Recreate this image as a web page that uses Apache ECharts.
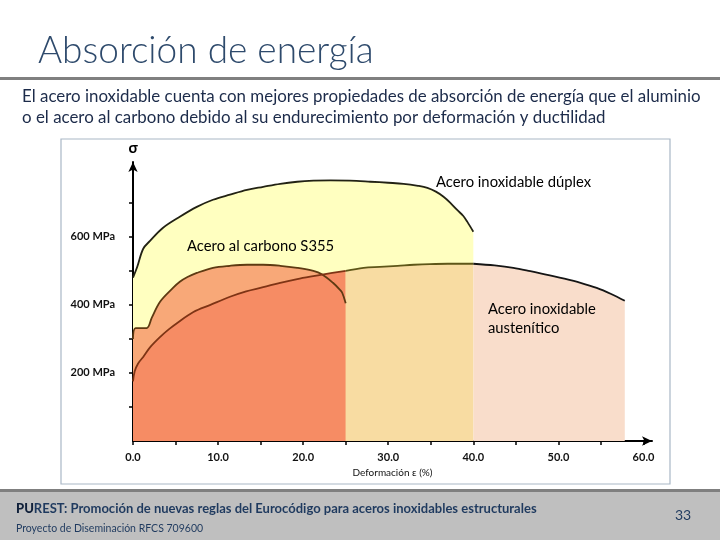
<!DOCTYPE html>
<html>
<head>
<meta charset="utf-8">
<script src="https://cdn.jsdelivr.net/npm/echarts@6/dist/echarts.min.js"></script>
<style>
html,body{margin:0;padding:0;background:#fff;}
#chart{width:720px;height:540px;}
</style>
</head>
<body>
<div id="chart"></div>
<script>
// ---- Data (strain %, stress MPa) ----
const duplex = [[0,480],[0.5,512],[1.2,565],[2.0,588],[3.5,626],[5.5,659],[7.5,688],[9.4,709],[11.4,724],[13.4,738],[15.3,747],[17.3,756],[19.3,762],[21.2,765],[23.2,766],[25.5,765],[27.9,762],[30,759],[31.8,756],[33.5,750],[34.6,744],[35.6,733],[36.5,718],[37.3,700],[38.1,679],[38.8,662],[39.3,644],[40,615]];
const carbonS355 = [[0,300],[0.3,332],[1.6,332],[2.2,362],[3.2,410],[4.7,450],[5.5,468],[6.4,482],[7.5,494],[9.4,509],[11.4,515],[13.4,518],[15.3,518],[17.3,515],[19.3,509],[21.2,500],[22.2,490],[23.5,465],[24.3,445],[24.6,435],[25,405]];
const austenitic = [[0,175],[0.2,205],[0.6,228],[1.2,247],[2.0,275],[3.2,306],[4.2,328],[5.2,347],[7.1,379],[9.1,400],[11.4,424],[13.3,440],[15.3,452],[17.3,465],[19.3,476],[21,484],[22.4,490],[25,500],[27.1,509],[29,512],[31.1,515],[33,518],[34.9,520],[37,521],[40,521],[42.5,516],[44.7,509],[46.7,499],[48.7,488],[50.7,477],[52.6,465],[54.5,450],[56.2,432],[57.8,412]];
const xTicks = [0,5,10,15,20,25,30,35,40,45,50,55,60];
const xLabels = [0,10,20,30,40,50,60];
const yTicks = [100,200,300,400,500,600,700];
const yLabels = [200,400,600];
const seriesNames = ['Acero inoxidable dúplex','Acero al carbono S355','Acero inoxidable austenítico'];
// split points of the austenitic curve (where the other fills end)
const carbonEnd = carbonS355[carbonS355.length-1][0];
const duplexEnd = duplex[duplex.length-1][0];

const austA = austenitic.filter(p => p[0] <= carbonEnd);
const austB = austenitic.filter(p => p[0] >= carbonEnd && p[0] <= duplexEnd);
const austC = austenitic.filter(p => p[0] >= duplexEnd);

const FONT = 'Lato, "Noto Sans", sans-serif';

function area(name, data, color, z) {
  return {type:'line', name, data, showSymbol:false, smooth:0.35, z,
    lineStyle:{width:0}, areaStyle:{color, opacity:1}, silent:true, animation:false};
}
function curve(name, data, color, z) {
  return {type:'line', name, data, showSymbol:false, smooth:0.35, z,
    lineStyle:{width:1.8, color}, silent:true, animation:false};
}

const chart = echarts.init(document.getElementById('chart'));
chart.setOption({
  backgroundColor:'#ffffff',
  animation:false,
  grid:{left:133, top:162, width:519, bottom:99},
  xAxis:{type:'value', min:0, max:61,
    name:'Deformación ε (%)', nameLocation:'middle', nameGap:26,
    nameTextStyle:{fontFamily:FONT, fontSize:10, color:'#111'},
    axisLine:{show:true, symbol:['none','arrow'], symbolSize:[7,10], lineStyle:{color:'#000', width:2}},
    axisTick:{show:true, customValues:xTicks, length:4, lineStyle:{color:'#000', width:1.5}},
    axisLabel:{customValues:xLabels, formatter:v => Number(v).toFixed(1), fontFamily:FONT, fontSize:11, fontWeight:'bold', color:'#111', margin:11},
    splitLine:{show:false}},
  yAxis:{type:'value', min:0, max:820,
    name:'σ', nameLocation:'end', nameGap:6,
    nameTextStyle:{fontFamily:FONT, fontSize:15, fontWeight:'bold', color:'#000', align:'center'},
    axisLine:{show:true, symbol:['none','arrow'], symbolSize:[7,10], lineStyle:{color:'#000', width:2}},
    axisTick:{show:true, customValues:yTicks, length:4, lineStyle:{color:'#000', width:1.5}},
    axisLabel:{customValues:yLabels, formatter:v => v + ' MPa', fontFamily:FONT, fontSize:11, fontWeight:'bold', color:'#111', margin:18},
    splitLine:{show:false}},
  series:[
    area(seriesNames[0], duplex, '#FFFFC0', 1),
    area(seriesNames[1], carbonS355, '#F8A878', 2),
    area(seriesNames[2], austA, '#F68C64', 3),
    area(seriesNames[2], austB, '#F8DCA2', 3),
    area(seriesNames[2], austC, '#F9DDCB', 3),
    curve(seriesNames[0], duplex, '#222214', 6),
    curve(seriesNames[1], carbonS355, '#5E3A12', 6),
    curve(seriesNames[2], austA, '#7E3415', 6),
    curve(seriesNames[2], austB, '#5E5618', 6),
    curve(seriesNames[2], austC, '#151515', 6)
  ],
  graphic:[
    {type:'text', x:38, y:51, style:{text:'Absorción de energía', fontFamily:FONT, fontSize:37, fontWeight:300, fill:'#2E4A6C', verticalAlign:'middle'}},
    {type:'rect', shape:{x:0, y:77, width:720, height:3}, style:{fill:'#808080'}},
    {type:'text', x:22, y:86, style:{text:'El acero inoxidable cuenta con mejores propiedades de absorción de energía que el aluminio\no el acero al carbono debido al su endurecimiento por deformación y ductilidad', fontFamily:FONT, fontSize:16.9, lineHeight:21, fill:'#1C2B4A', verticalAlign:'top'}},
    {type:'rect', shape:{x:61, y:139, width:609, height:345}, style:{fill:'none', stroke:'#A9B7C6', lineWidth:1.2}, z:0},
    {type:'text', x:436, y:182, style:{text:seriesNames[0], fontFamily:FONT, fontSize:14.8, fill:'#000', verticalAlign:'middle'}, z:10},
    {type:'text', x:187, y:246, style:{text:seriesNames[1], fontFamily:FONT, fontSize:14.8, fill:'#000', verticalAlign:'middle'}, z:10},
    {type:'text', x:488, y:300, style:{text:'Acero inoxidable\naustenítico', fontFamily:FONT, fontSize:14.8, lineHeight:19, fill:'#000', verticalAlign:'top'}, z:10},
    {type:'rect', shape:{x:0, y:490, width:720, height:50}, style:{fill:'#BFBFBF'}},
    {type:'rect', shape:{x:0, y:489, width:720, height:3}, style:{fill:'#7F7F7F'}},
    {type:'text', x:16, y:509, style:{text:'{b|PU}REST: Promoción de nuevas reglas del Eurocódigo para aceros inoxidables estructurales', fontFamily:FONT, fontSize:13, fontWeight:'bold', fill:'#1F3A5F', verticalAlign:'middle', rich:{b:{fontFamily:FONT, fontSize:13, fontWeight:900, fill:'#10203A'}}}},
    {type:'text', x:16, y:529, style:{text:'Proyecto de Diseminación RFCS 709600', fontFamily:FONT, fontSize:10.5, fill:'#1F3A5F', verticalAlign:'middle'}},
    {type:'text', x:683, y:515, style:{text:'33', fontFamily:FONT, fontSize:14, fill:'#1F3A5F', align:'center', verticalAlign:'middle'}}
  ]
});
</script>
</body>
</html>
